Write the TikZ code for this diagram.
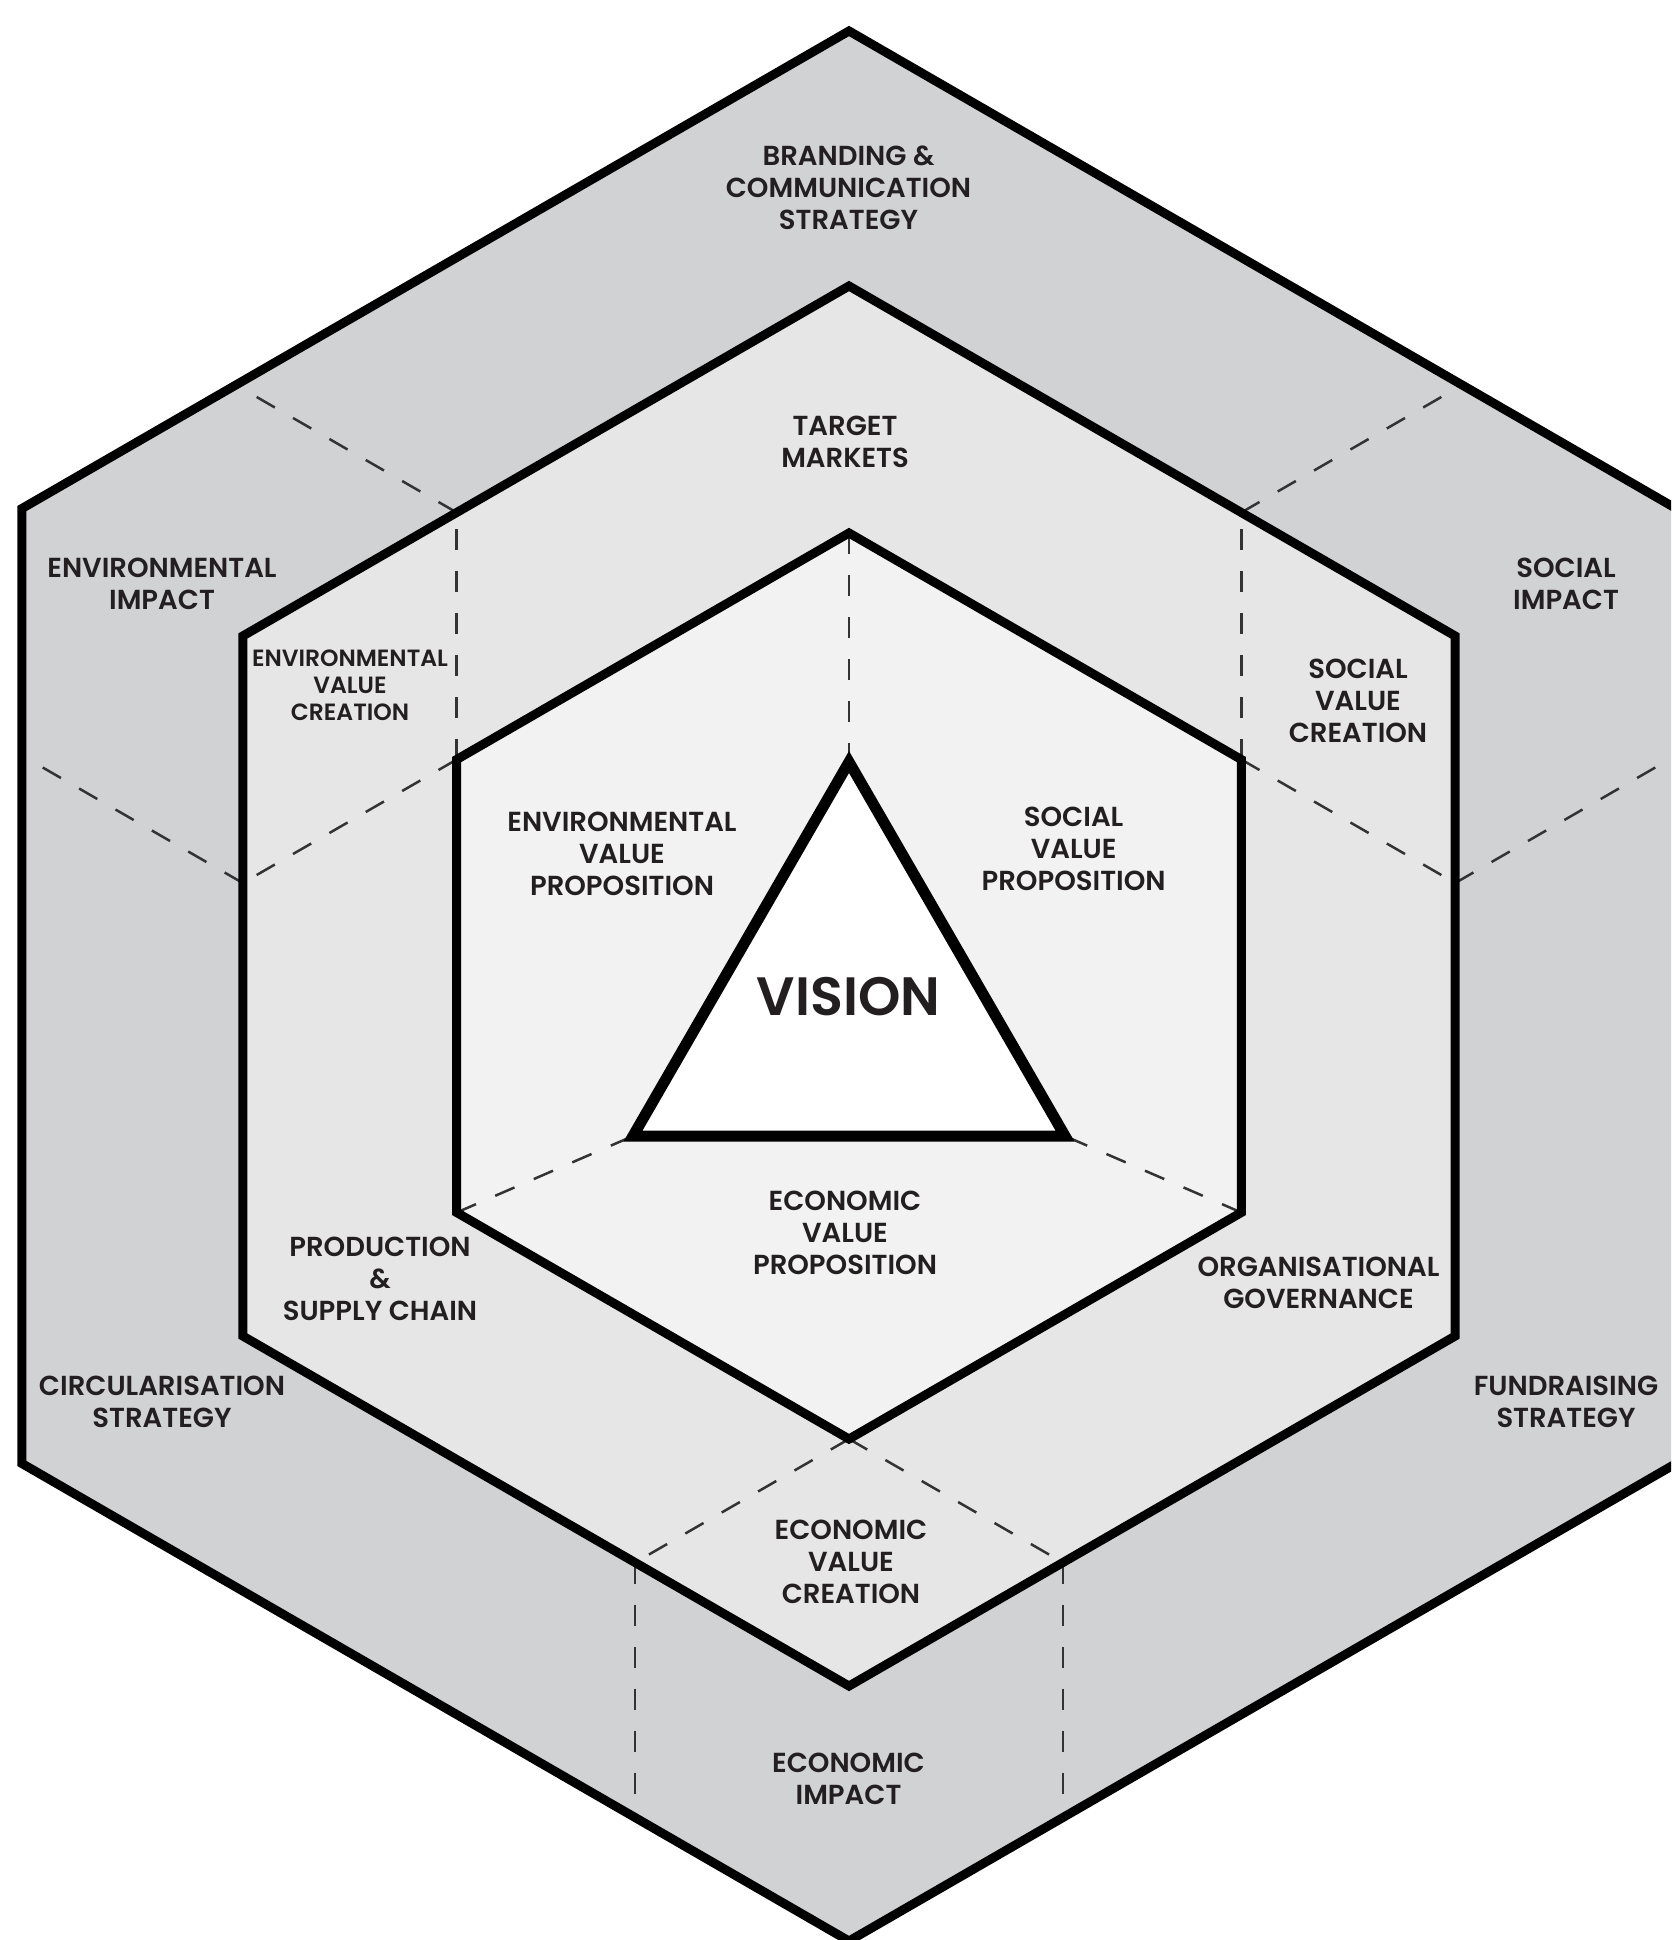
\documentclass[tikz,border=0pt]{standalone}
\usepackage{fontspec}
\newfontfamily\labfam{Poppins SemiBold}
\definecolor{outerg}{HTML}{D1D2D4}
\definecolor{midg}{HTML}{E6E6E7}
\definecolor{inng}{HTML}{F2F2F2}
\definecolor{txt}{HTML}{231F20}
\definecolor{dashc}{HTML}{333333}
\tikzset{
  hexline/.style={draw=black, line width=9pt, line join=miter},
  triline/.style={draw=black, line width=11pt, line join=miter},
  divider/.style={draw=dashc, line width=2.5pt, dash pattern=on 21pt off 21pt},
  lab/.style={align=center, inner sep=0pt, text=txt, font=\labfam\fontsize{27.5}{32}\selectfont},
  labsmall/.style={align=center, inner sep=0pt, text=txt, font=\labfam\fontsize{23.5}{27}\selectfont},
  labbig/.style={align=center, inner sep=0pt, text=txt, font=\labfam\fontsize{54}{60}\selectfont}
}
\begin{document}
\begin{tikzpicture}[x=1pt,y=-1pt]
\useasboundingbox (0,0) rectangle (1671,1940);
\clip (0,0) rectangle (1671,1940);
% outer hexagon
\coordinate (Otop) at (849,31);
\coordinate (Our) at (1676.05,508.5);
\coordinate (Olr) at (1676.05,1463.5);
\coordinate (Obot) at (849,1941);
\coordinate (Oll) at (21.95,1463.5);
\coordinate (Oul) at (21.95,508.5);
% middle hexagon
\coordinate (Mtop) at (849,286);
\coordinate (Mur) at (1455.2,636);
\coordinate (Mlr) at (1455.2,1336);
\coordinate (Mbot) at (849,1686);
\coordinate (Mll) at (242.8,1336);
\coordinate (Mul) at (242.8,636);
% inner hexagon
\coordinate (Itop) at (849,533);
\coordinate (Iur) at (1241.3,759.5);
\coordinate (Ilr) at (1241.3,1212.5);
\coordinate (Ibot) at (849,1439);
\coordinate (Ill) at (456.7,1212.5);
\coordinate (Iul) at (456.7,759.5);
% triangle
\coordinate (Tap) at (849,762);
\coordinate (Tbl) at (633,1136);
\coordinate (Tbr) at (1065,1136);
% divider end points
\coordinate (P1) at (456.7,512.5);
\coordinate (P2) at (242.8,883);
\coordinate (P3) at (1241.3,512.5);
\coordinate (P4) at (1455.2,883);
\coordinate (P5) at (635.1,1562.5);
\coordinate (P6) at (1062.9,1562.5);
\coordinate (Q1) at (235.9,385);
\coordinate (Q2) at (21.95,755.5);
\coordinate (Q3) at (1462.1,385);
\coordinate (Q4) at (1676.05,755.5);
\coordinate (Q5) at (635.1,1817.5);
\coordinate (Q6) at (1062.9,1817.5);

% fills
\fill[outerg] (Otop)--(Our)--(Olr)--(Obot)--(Oll)--(Oul)--cycle;
\fill[midg] (Mtop)--(Mur)--(Mlr)--(Mbot)--(Mll)--(Mul)--cycle;
\fill[inng] (Itop)--(Iur)--(Ilr)--(Ibot)--(Ill)--(Iul)--cycle;
\fill[white] (Tap)--(Tbr)--(Tbl)--cycle;

% dividers
\draw[divider] (Itop) -- (Tap);
\draw[divider] (Ill) -- (Tbl);
\draw[divider] (Ilr) -- (Tbr);
\draw[divider] (Iul) -- (P1);
\draw[divider] (Iul) -- (P2);
\draw[divider] (Iur) -- (P3);
\draw[divider] (Iur) -- (P4);
\draw[divider] (Ibot) -- (P5);
\draw[divider] (Ibot) -- (P6);
\draw[divider] (P1) -- (Q1);
\draw[divider] (P2) -- (Q2);
\draw[divider] (P3) -- (Q3);
\draw[divider] (P4) -- (Q4);
\draw[divider] (P5) -- (Q5);
\draw[divider] (P6) -- (Q6);

% outlines
\draw[hexline] (Otop)--(Our)--(Olr)--(Obot)--(Oll)--(Oul)--cycle;
\draw[hexline] (Mtop)--(Mur)--(Mlr)--(Mbot)--(Mll)--(Mul)--cycle;
\draw[hexline] (Itop)--(Iur)--(Ilr)--(Ibot)--(Ill)--(Iul)--cycle;
\draw[triline] (Tap)--(Tbr)--(Tbl)--cycle;

% labels
\node[lab] (brand) at (848.5,188) {BRANDING \&\\COMMUNICATION\\STRATEGY};
\node[lab] (target) at (845,441.6) {TARGET\\MARKETS};
\node[lab] (envimp) at (162,583.8) {ENVIRONMENTAL\\IMPACT};
\node[lab] (socimp) at (1566,583.8) {SOCIAL\\IMPACT};
\node[labsmall] (envvc) at (350,685) {ENVIRONMENTAL\\VALUE\\CREATION};
\node[lab] (socvc) at (1358,701) {SOCIAL\\VALUE\\CREATION};
\node[lab] (envvp) at (622,853.5) {ENVIRONMENTAL\\VALUE\\PROPOSITION};
\node[lab] (socvp) at (1073.6,848.5) {SOCIAL\\VALUE\\PROPOSITION};
\node[labbig] (vision) at (848.5,997) {VISION};
\node[lab] (ecovp) at (845,1233) {ECONOMIC\\VALUE\\PROPOSITION};
\node[lab] (prod) at (380,1279) {PRODUCTION\\\&\\SUPPLY CHAIN};
\node[lab] (gov) at (1318.5,1282.7) {ORGANISATIONAL\\GOVERNANCE};
\node[lab] (circ) at (162,1401.4) {CIRCULARISATION\\STRATEGY};
\node[lab] (fund) at (1566,1401.4) {FUNDRAISING\\STRATEGY};
\node[lab] (ecovc) at (851,1562) {ECONOMIC\\VALUE\\CREATION};
\node[lab] (ecoimp) at (848.5,1778.7) {ECONOMIC\\IMPACT};
\end{tikzpicture}
\end{document}
